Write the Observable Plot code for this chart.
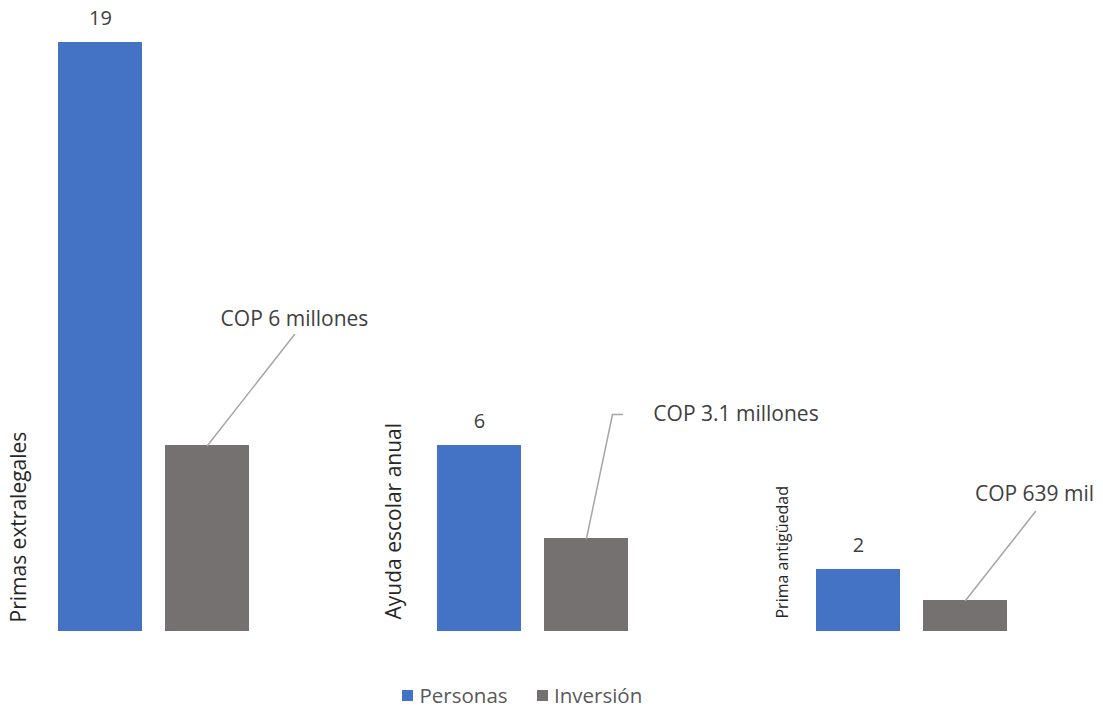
<!DOCTYPE html>
<html><head><meta charset="utf-8">
<script src="https://cdn.jsdelivr.net/npm/d3@7"></script>
<script src="https://cdn.jsdelivr.net/npm/@observablehq/plot@0.6"></script>
<style>
body{margin:0;background:#fff;font-family:"Open Sans",sans-serif;}
#wrap{position:relative;width:1103px;height:710px;overflow:hidden;}
#chart{position:absolute;left:0;top:0;}
.lg{position:absolute;font-size:20.5px;color:#595959;line-height:26px;white-space:nowrap;}
.sw{position:absolute;width:10.5px;height:10.5px;}
</style></head><body>
<div id="wrap"><div id="chart"></div><div id="legend"></div></div>
<script>
// ---- data ----
const categories = ["Primas extralegales", "Ayuda escolar anual", "Prima antigüedad"];
const series = ["Personas", "Inversión"];
const personas = [19, 6, 2];
const inversion = [6, 3, 1];
const personasLabels = ["19", "6", "2"];
const inversionLabels = ["COP 6 millones", "COP 3.1 millones", "COP 639 mil"];
const colors = ["#4472C4", "#767171"];

// ---- table ----
const rows = categories.flatMap((c, i) => [
  {category: c, series: series[0], value: personas[i], label: personasLabels[i]},
  {category: c, series: series[1], value: inversion[i], label: inversionLabels[i]}
]);
const pers = rows.filter(d => d.series === series[0]);
const inv = rows.filter(d => d.series === series[1]);
const invOf = i => inv.filter(d => d.category === categories[i]);

const lineShape = {draw(context, l) { context.moveTo(0, 0); context.lineTo(0, -l); }};
const leader = {stroke: "#A6A6A6", strokeWidth: 1.5, shape: lineShape, anchor: "start"};

// category label styles (rotated)
const catStyle = [
  {dx: -33, dy: -9, fontSize: 21},
  {dx: -36.5, dy: -12, fontSize: 21},
  {dx: -29, dy: -13, fontSize: 16}
];
// callout styles
const callStyle = [
  {tdx: 87, tdy: -126, len: 141, rot: 38.1},
  {tdx: 149.5, tdy: -124, len: 126.7, rot: 11.84},
  {tdx: 69, tdy: -106, len: 113.2, rot: 38.2}
];

const marks = [
  Plot.barY(rows, {fx: "category", x: "series", y: "value", fill: "series"}),
  Plot.text(pers, {fx: "category", x: "series", y: "value", text: "label", dy: -24, fontSize: 20, fill: "#404040"})
];
categories.forEach((c, i) => {
  const s = catStyle[i];
  marks.push(Plot.text([c], {fx: d => d, text: d => d, frameAnchor: "bottom-left", rotate: -90,
    textAnchor: "start", dx: s.dx, dy: s.dy, fontSize: s.fontSize, fill: "#262626"}));
  const cs = callStyle[i];
  const d = invOf(i);
  marks.push(Plot.vector(d, {fx: "category", x: "series", y: "value", length: cs.len, rotate: cs.rot, ...leader}));
  marks.push(Plot.text(d, {fx: "category", x: "series", y: "value", text: "label", dx: cs.tdx, dy: cs.tdy, fontSize: 21, fill: "#404040"}));
});
// elbow for the second callout
marks.push(Plot.vector(invOf(1), {fx: "category", x: "series", y: "value", length: 10, rotate: 90, dx: 26, dy: -124, ...leader}));

const chart = Plot.plot({
  width: 1103,
  height: 660,
  marginTop: 42,
  marginBottom: 29,
  marginLeft: 57,
  marginRight: 93,
  style: {fontFamily: "Open Sans", fontSize: "19px", background: "#fff", overflow: "visible"},
  fx: {domain: categories, paddingInner: 0.4921, paddingOuter: 0, axis: null, label: null},
  x: {domain: series, paddingInner: 0.213, paddingOuter: 0, axis: null},
  y: {domain: [0, 19], axis: null},
  color: {domain: series, range: colors},
  marks
});
document.getElementById("chart").appendChild(chart);

// legend
const lg = document.getElementById("legend");
const lgPos = [{sq: 402, tx: 419.5}, {sq: 537, tx: 554}];
series.forEach((s, i) => {
  const sw = document.createElement("div");
  sw.className = "sw";
  sw.style.left = lgPos[i].sq + "px";
  sw.style.top = "690px";
  sw.style.background = colors[i];
  lg.appendChild(sw);
  const t = document.createElement("div");
  t.className = "lg";
  t.style.left = lgPos[i].tx + "px";
  t.style.top = "682px";
  t.textContent = s;
  lg.appendChild(t);
});
</script>
</body></html>
